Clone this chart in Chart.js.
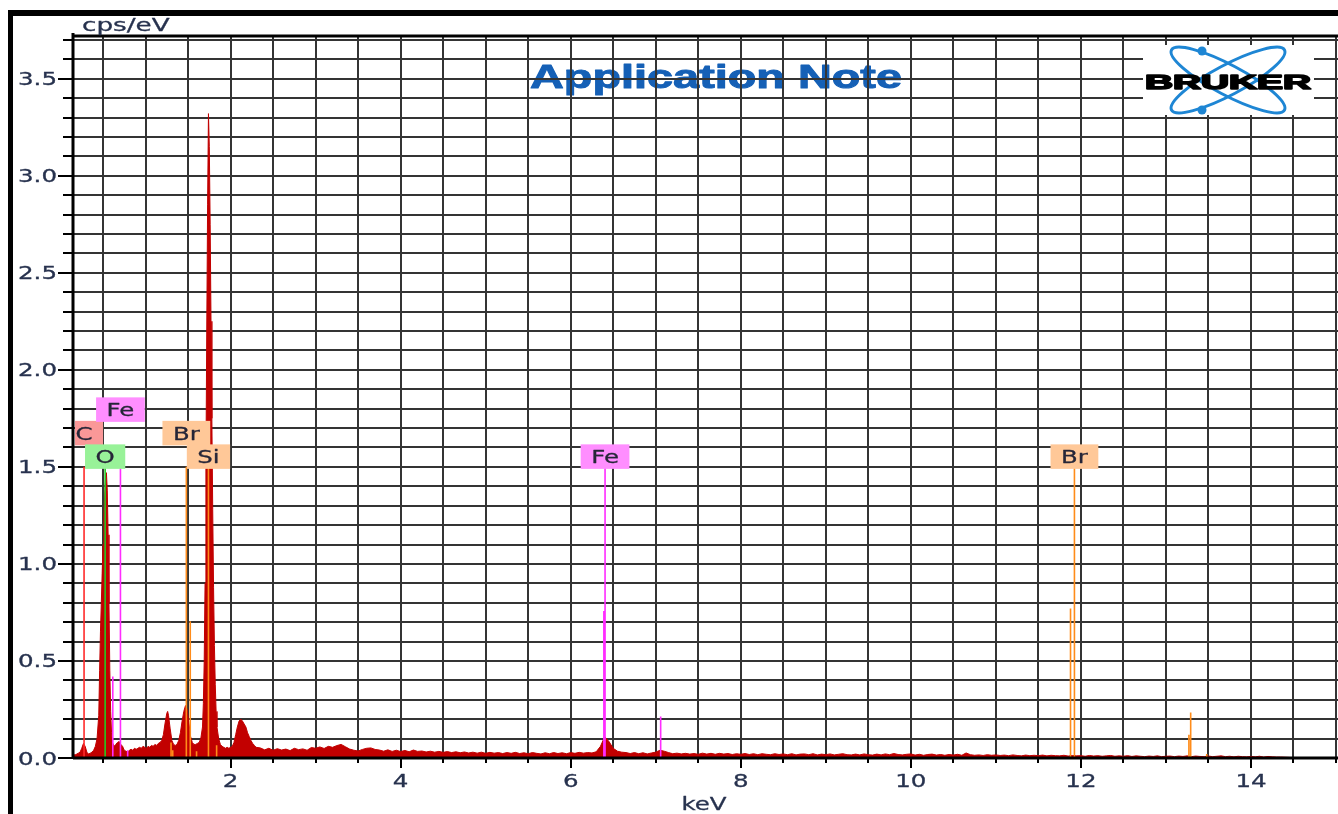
<!DOCTYPE html>
<html><head><meta charset="utf-8">
<script src="https://cdn.jsdelivr.net/npm/chart.js@4/dist/chart.umd.min.js"></script>
<style>html,body{margin:0;padding:0;background:#fff;overflow:hidden}#wrap{width:1338px;height:814px;position:relative}</style>
</head><body><div id="wrap"><canvas id="c" width="1338" height="814"></canvas></div>
<script>
// ---------- DATA ----------
// Spectrum, low-energy part (keV, cps/eV)
const lowE = [0.15,0.17,0.19,0.21,0.23,0.25,0.27,0.29,0.31,0.33,0.35,0.37,0.39,0.41,0.43,
  0.45,0.46,0.47,0.48,0.49,0.50,0.51,0.52,0.53,0.54,0.55,0.56,0.57,0.58,0.59,0.60,0.61,
  0.63,0.65,0.67,0.69,0.71,0.73,0.75,0.77,0.79,0.81,0.83,0.85,0.87,0.89,0.91,0.93,0.95,0.97,0.99];
const lowY = [0.02,0.015,0.02,0.025,0.03,0.05,0.075,0.06,0.03,0.02,0.025,0.03,0.04,0.06,0.10,
  0.22,0.45,0.65,0.80,0.95,1.10,1.25,1.36,1.44,1.47,1.38,1.15,0.80,0.45,0.24,0.13,0.08,
  0.06,0.07,0.08,0.085,0.07,0.06,0.04,0.035,0.03,0.04,0.045,0.04,0.05,0.045,0.05,0.055,0.05,0.06,0.055];
// Spectrum, Mg / Al / Si / 2.1 keV region
const midE = [1.01,1.03,1.05,1.07,1.09,1.11,1.13,1.15,1.17,1.19,1.21,1.23,
  1.25,1.26,1.27,
  1.29,1.31,1.33,1.35,1.37,1.39,1.41,1.43,1.45,1.47,1.49,1.51,1.53,1.55,1.57,1.59,1.61,1.63,1.65,1.67,
  1.68,1.69,1.70,1.71,1.72,1.73,1.74,1.75,1.76,1.77,1.78,1.79,1.80,1.81,1.82,1.83,1.84,
  1.86,1.88,1.90,1.92,1.94,1.96,1.98,2.00,2.02,2.04,2.06,2.08,2.10,2.12,2.14,2.16,2.18,2.20,2.22,2.24,2.26,2.28,2.30];
const midY = [0.05,0.06,0.055,0.065,0.06,0.07,0.065,0.075,0.08,0.09,0.12,0.18,
  0.23,0.24,0.22,
  0.15,0.09,0.07,0.065,0.07,0.09,0.13,0.19,0.24,0.27,0.25,0.18,0.11,0.08,0.07,0.07,0.075,0.08,0.10,0.16,
  0.28,0.50,0.90,1.50,2.20,2.85,3.32,3.15,2.75,2.25,1.75,1.28,0.88,0.58,0.38,0.24,0.16,
  0.10,0.07,0.06,0.055,0.05,0.055,0.05,0.055,0.06,0.08,0.12,0.16,0.19,0.20,0.19,0.175,0.16,0.13,0.11,0.09,0.075,0.065,0.055];
// Spectrum background, channels every 0.05 keV from 2.35 to 14.50 keV
const bgStart = 2.35, bgStep = 0.05;
const bgY = [
  0.052,0.042,0.05,0.04,0.048,0.041,0.046,0.038,0.05,0.043,
  0.047,0.04,0.054,0.05,0.057,0.049,0.06,0.055,0.064,0.07,
  0.058,0.046,0.04,0.036,0.044,0.05,0.052,0.044,0.041,0.035,
  0.042,0.034,0.04,0.033,0.039,0.032,0.041,0.034,0.036,0.031,
  0.035,0.03,0.034,0.029,0.033,0.028,0.032,0.027,0.031,0.026,
  0.03,0.025,0.03,0.024,0.029,0.025,0.028,0.023,0.028,0.024,
  0.029,0.023,0.027,0.022,0.028,0.024,0.021,0.027,0.022,0.028,
  0.023,0.027,0.022,0.028,0.024,0.029,0.025,0.028,0.026,0.032,
  0.06,0.11,0.085,0.05,0.035,0.03,0.028,0.023,0.028,0.022,
  0.027,0.021,0.026,0.03,0.04,0.035,0.028,0.022,0.025,0.021,
  0.024,0.02,0.023,0.019,0.025,0.02,0.024,0.019,0.024,0.02,
  0.023,0.018,0.022,0.019,0.023,0.018,0.022,0.017,0.022,0.019,
  0.017,0.022,0.018,0.021,0.017,0.022,0.016,0.02,0.021,0.017,
  0.022,0.016,0.02,0.017,0.021,0.016,0.019,0.022,0.017,0.016,
  0.02,0.016,0.021,0.017,0.015,0.02,0.016,0.021,0.017,0.023,
  0.018,0.016,0.019,0.021,0.015,0.019,0.014,0.018,0.02,0.015,
  0.018,0.014,0.018,0.015,0.019,0.014,0.026,0.017,0.014,0.016,
  0.013,0.017,0.014,0.016,0.013,0.015,0.012,0.016,0.013,0.011,
  0.015,0.012,0.014,0.012,0.015,0.011,0.014,0.012,0.011,0.014,
  0.01,0.013,0.011,0.012,0.009,0.013,0.01,0.012,0.009,0.011,
  0.013,0.009,0.011,0.009,0.012,0.008,0.011,0.009,0.007,0.01,
  0.008,0.011,0.007,0.009,0.01,0.007,0.01,0.008,0.011,0.007,
  0.01,0.008,0.007,0.01,0.007,0.009,0.011,0.007,0.009,0.006,
  0.009,0.007,0.006,0.008,0.006,0.009,0.005,0.008,0.006,0.005,
  0.005,0.004,0.003,0];

// Element marker lines (energy keV, height cps/eV)
const C_E  = [0.277],                 C_H  = [1.5];
const O_E  = [0.525],                 O_H  = [1.5];
const FE_E = [0.615,0.705,0.79,6.39,6.404,7.058], FE_H = [0.42,1.5,0.04,0.757,1.5,0.214];
const BR_E = [1.30,1.32,1.48,1.526,1.60,11.878,11.924,13.27,13.291,13.48];
const BR_H = [0.08,0.04,1.5,0.705,0.035,0.77,1.5,0.12,0.235,0.02];
const SI_E = [1.74,1.836],            SI_H = [1.5,0.066];

// Element labels
const labelNames    = ['C','O','Fe','Br','Si','Fe','Br'];
const labelEnergies = [0.277,0.525,0.705,1.48,1.74,6.404,11.924];
const labelHeight   = 1.5;

// Tick labels
const xTickVals   = [2,4,6,8,10,12,14];
const xTickLabels = ['2','4','6','8','10','12','14'];
const yTickVals   = [0,0.5,1,1.5,2,2.5,3,3.5];
const yTickLabels = ['0.0','0.5','1.0','1.5','2.0','2.5','3.0','3.5'];
const yUnit = 'cps/eV', xUnit = 'keV';
const titleText = 'Application Note', logoText = 'BRUKER';

// ---------- LAYOUT / STYLE ----------
const labelRows = [1,0,2,1,0,0,0];
const elementStyle = {
  C:  {line:'#ff2a2a', box:'#fa9898'},
  O:  {line:'#22c822', box:'#98f298'},
  Fe: {line:'#ff2cff', box:'#ff8eff'},
  Br: {line:'#ff8c1a', box:'#ffc898'},
  Si: {line:'#ff8c1a', box:'#ffc898'}
};
const SX = 1.4;

// ---------- BUILD ----------
const spectrum = [];
lowE.forEach((e,i)=>spectrum.push({x:e,y:lowY[i]}));
midE.forEach((e,i)=>spectrum.push({x:e,y:midY[i]}));
bgY.forEach((v,i)=>spectrum.push({x:+(bgStart+i*bgStep).toFixed(2),y:v}));

function lineData(E,H){
  const d=[];
  E.forEach((e,i)=>{d.push({x:e,y:0});d.push({x:e,y:H[i]});d.push({x:e,y:null});});
  return d;
}
const elemSets = [['C',C_E,C_H],['O',O_E,O_H],['Fe',FE_E,FE_H],['Br',BR_E,BR_H],['Si',SI_E,SI_H]].map(([n,E,H])=>({
  label:n, data:lineData(E,H), showLine:true, spanGaps:false, fill:false,
  borderColor:elementStyle[n].line, borderWidth:1.6, pointRadius:0, order:1, borderCapStyle:'butt'
}));

function stretched(ctx,text,x,y,align,sx,strokeW){
  const w=ctx.measureText(text).width*sx;
  const left = align==='center'? x-w/2 : align==='right'? x-w : x;
  ctx.save(); ctx.translate(left,y); ctx.scale(sx,1); ctx.textAlign='left'; ctx.fillText(text,0,0);
  if(strokeW){ctx.strokeStyle=ctx.fillStyle; ctx.lineWidth=strokeW; ctx.lineJoin='round'; ctx.strokeText(text,0,0);}
  ctx.restore();
}

const decor = {
  id:'decor',
  beforeDraw(chart){
    const ctx=chart.ctx;
    ctx.save();
    ctx.fillStyle='#fff'; ctx.fillRect(0,0,chart.width,chart.height);
    // title (under grid)
    ctx.font='bold 34px "Liberation Sans", Arial, sans-serif';
    ctx.fillStyle='#1560b6'; ctx.textBaseline='alphabetic';
    const tw=ctx.measureText(titleText).width;
    stretched(ctx,titleText,716,88,'center',372/tw,1);
    ctx.restore();
  },
  beforeDatasetsDraw(chart){
    const ctx=chart.ctx, a=chart.chartArea, xs=chart.scales.x, ys=chart.scales.y;
    ctx.save();
    ctx.strokeStyle='#343434'; ctx.lineWidth=2;
    for(let i=1;i<=30;i++){
      const px=Math.round(xs.getPixelForValue(i*0.5));
      ctx.beginPath(); ctx.moveTo(px,a.top); ctx.lineTo(px,a.bottom); ctx.stroke();
    }
    for(let i=1;i<=37;i++){
      const py=Math.round(ys.getPixelForValue(i/10));
      ctx.beginPath(); ctx.moveTo(a.left,py); ctx.lineTo(chart.width,py); ctx.stroke();
    }
    ctx.restore();
  },
  afterDatasetsDraw(chart){
    const ctx=chart.ctx, a=chart.chartArea, xs=chart.scales.x, ys=chart.scales.y;
    ctx.save();
    // axes
    ctx.strokeStyle='#000'; ctx.lineWidth=3;
    ctx.beginPath(); ctx.moveTo(a.left,a.top-3); ctx.lineTo(a.left,a.bottom+1); ctx.stroke();
    ctx.beginPath(); ctx.moveTo(a.left,a.bottom); ctx.lineTo(chart.width,a.bottom); ctx.stroke();
    ctx.beginPath(); ctx.moveTo(a.left,a.top); ctx.lineTo(chart.width,a.top); ctx.stroke();
    // ticks
    ctx.lineWidth=2;
    for(let i=0;i<=37;i++){
      const py=Math.round(ys.getPixelForValue(i/10));
      const len = i%5===0?15:10;
      ctx.beginPath(); ctx.moveTo(a.left-len,py); ctx.lineTo(a.left,py); ctx.stroke();
    }
    for(let i=1;i<=30;i++){
      const px=Math.round(xs.getPixelForValue(i*0.5));
      const len = i%4===0?10:5;
      ctx.beginPath(); ctx.moveTo(px,a.bottom); ctx.lineTo(px,a.bottom+len); ctx.stroke();
    }
    // tick labels
    ctx.fillStyle='#27324e'; ctx.font='17.5px "DejaVu Sans", Verdana, sans-serif'; ctx.textBaseline='alphabetic';
    yTickVals.forEach((v,i)=>stretched(ctx,yTickLabels[i],57,ys.getPixelForValue(v)+6.5,'right',SX,0.3));
    xTickVals.forEach((v,i)=>stretched(ctx,xTickLabels[i],xs.getPixelForValue(v),787,'center',SX,0.3));
    // element label boxes
    ctx.beginPath(); ctx.rect(a.left+2,0,a.right-a.left,a.bottom); ctx.clip();
    ctx.font='18.5px "DejaVu Sans", Verdana, sans-serif';
    labelNames.forEach((n,i)=>{
      const cx=xs.getPixelForValue(labelEnergies[i]);
      const bottom=ys.getPixelForValue(labelHeight)+2-labelRows[i]*23.5;
      const h=24.5;
      const w=ctx.measureText(n).width*1.32+21;
      ctx.fillStyle=elementStyle[n].box;
      ctx.fillRect(cx-w/2,bottom-h,w,h);
      ctx.fillStyle='#262638';
      stretched(ctx,n,cx,bottom-h/2+6.8,'center',1.32,0.3);
    });
    ctx.restore();
  },
  afterDraw(chart){
    const ctx=chart.ctx;
    ctx.save();
    // axis unit texts
    ctx.fillStyle='#27324e'; ctx.font='17.5px "DejaVu Sans", Verdana, sans-serif'; ctx.textBaseline='alphabetic';
    stretched(ctx,yUnit,82,31,'left',1.5,0.3);
    stretched(ctx,xUnit,704,810,'center',SX,0.3);
    // logo
    ctx.fillStyle='#fff'; ctx.fillRect(1143,45,171,70);
    ctx.strokeStyle='#1e86d4'; ctx.lineWidth=3;
    [28,-28].forEach(d=>{ctx.beginPath(); ctx.ellipse(1228,80,64,15,d*Math.PI/180,0,Math.PI*2); ctx.stroke();});
    ctx.fillStyle='#1e86d4';
    ctx.beginPath(); ctx.arc(1202,51,4.5,0,Math.PI*2); ctx.fill();
    ctx.beginPath(); ctx.arc(1202,110,4.5,0,Math.PI*2); ctx.fill();
    ctx.font='900 20px "Liberation Sans", Arial, sans-serif'; ctx.fillStyle='#000';
    const lw=ctx.measureText(logoText).width;
    stretched(ctx,logoText,1228,88.5,'center',166/lw,1.6);
    // outer frame
    ctx.fillStyle='#000';
    ctx.fillRect(8,10,chart.width-8,6);
    ctx.fillRect(8,10,5,chart.height-10);
    ctx.restore();
  }
};

new Chart(document.getElementById('c'),{
  type:'scatter',
  data:{datasets:[...elemSets,{
    label:'spectrum', data:spectrum, showLine:true, fill:'origin',
    borderColor:'#c20000', backgroundColor:'#c20000', borderWidth:1, pointRadius:0, order:2
  }]},
  options:{
    responsive:false, animation:false, events:[],
    layout:{padding:{left:73,top:36,right:2,bottom:56}},
    scales:{
      x:{type:'linear',display:false,min:0.147,max:15.0},
      y:{type:'linear',display:false,min:0,max:3.72}
    },
    plugins:{legend:{display:false},tooltip:{enabled:false}}
  },
  plugins:[decor]
});
</script></body></html>
